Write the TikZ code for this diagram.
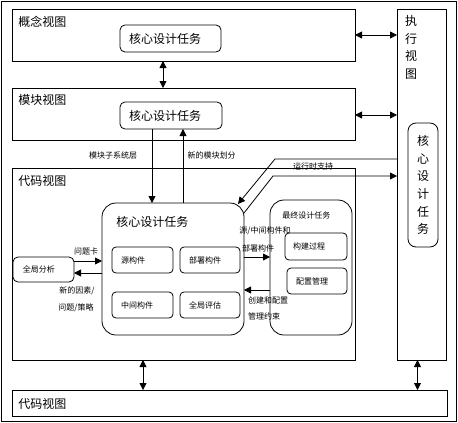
\documentclass[tikz,border=0pt]{standalone}
\usepackage{fontspec}
\newfontfamily\cjk{Noto Sans CJK SC}
\usetikzlibrary{arrows.meta}
\begin{document}
\begin{tikzpicture}[x=1pt,y=-1pt,line width=0.8pt,
  frame/.style={draw,inner sep=0pt,outer sep=0pt},
  task/.style={frame,rounded corners=5pt},
  big/.style={font=\cjk\fontsize{12}{17.7}\selectfont},
  small/.style={font=\cjk\fontsize{8}{10}\selectfont},
  lbl/.style={inner sep=0pt,anchor=west},
  arr/.style={-{Triangle[length=7pt,width=7pt]}},
  darr/.style={{Triangle[length=7pt,width=7pt]}-{Triangle[length=7pt,width=7pt]}}]
\useasboundingbox (0,0) rectangle (458,423);
\node[frame,minimum width=455pt,minimum height=420pt] (outer) at (228.5,211) {};
% concept view
\node[frame,minimum width=343pt,minimum height=52pt] (concept) at (183.5,35) {};
\node[big,lbl] (conceptL) at (18,22) {概念视图};
\node[task,big,minimum width=101pt,minimum height=27pt,text width=83pt,align=left,inner xsep=9pt] (cTask) at (170.5,38.5) {核心设计任务};
% module view
\node[frame,minimum width=343pt,minimum height=52pt] (module) at (183.5,114) {};
\node[big,lbl] (moduleL) at (18,100) {模块视图};
\node[task,big,minimum width=102pt,minimum height=27pt,text width=84pt,align=left,inner xsep=9pt] (mTask) at (171,115.5) {核心设计任务};
% execution view
\node[frame,minimum width=49pt,minimum height=351pt] (exec) at (421.5,184.5) {};
\node[big,inner sep=0pt,anchor=north,align=center] (execL) at (411,15) {执\\行\\视\\图};
\node[frame,rounded corners=8pt,big,align=center,minimum width=30pt,minimum height=124pt] (eTask) at (423,185) {核\\心\\设\\计\\任\\务};
% code view
\node[frame,minimum width=343pt,minimum height=192pt] (code) at (183.5,264) {};
\node[big,lbl] (codeL) at (18,181) {代码视图};
\node[frame,minimum width=435pt,minimum height=26pt] (code2) at (229.5,403) {};
\node[big,lbl] (code2L) at (18,404) {代码视图};
% core design task
\node[frame,rounded corners=14pt,minimum width=142pt,minimum height=132pt] (core) at (173,269) {};
\node[big,lbl] (coreL) at ([xshift=14pt,yshift=-19pt]core.north west) {核心设计任务};
\node[task,rounded corners=4pt,small,minimum width=61pt,minimum height=26pt,text width=43pt,align=left,inner xsep=9pt] (src) at (142.5,260) {源构件};
\node[task,rounded corners=4pt,small,minimum width=60pt,minimum height=26pt,text width=42pt,align=left,inner xsep=9pt] (deploy) at (210,260) {部署构件};
\node[task,rounded corners=4pt,small,minimum width=61pt,minimum height=26pt,text width=43pt,align=left,inner xsep=9pt] (mid) at (142.5,305) {中间构件};
\node[task,rounded corners=4pt,small,minimum width=60pt,minimum height=26pt,text width=42pt,align=left,inner xsep=9pt] (eval) at (210,305) {全局评估};
% final design task
\node[frame,rounded corners=14pt,minimum width=82pt,minimum height=135pt] (final) at (311,267.5) {};
\node[small,lbl] (finalL) at ([xshift=12pt,yshift=-15pt]final.north west) {最终设计任务};
\node[task,rounded corners=4pt,small,minimum width=62pt,minimum height=27pt,text width=46pt,align=left,inner xsep=8pt] (build) at (316,246.5) {构建过程};
\node[task,rounded corners=4pt,small,minimum width=60pt,minimum height=26pt,text width=42pt,align=left,inner xsep=9pt] (config) at (317,281) {配置管理};
% global analysis
\node[task,small,minimum width=61pt,minimum height=25pt,text width=41pt,align=left,inner xsep=10pt] (global) at (43.5,269.5) {全局分析};
% connectors
\draw[darr] ([xshift=-20.5pt]concept.south) -- ([xshift=-20.5pt]concept.south |- module.north);
\draw[darr] (concept.east) -- (concept.east -| exec.west);
\draw[darr] ([yshift=-1pt]module.east) -- ([yshift=-1pt]module.east -| exec.west);
\draw[darr] ([xshift=-40.5pt]code.south) -- ([xshift=-40.5pt]code.south |- code2.north);
\draw[darr] ([xshift=-4pt]exec.south) -- ([xshift=-4pt]exec.south |- code2.north);
\draw[arr] ([xshift=-19pt]mTask.south) -- ([xshift=-19pt]mTask.south |- core.north);
\draw[arr] ([xshift=10pt]core.north) -- ([xshift=10pt]core.north |- mTask.south);
\node[small] (l1) at (113,155) {模块子系统层};
\node[small] (l2) at (211.5,155) {新的模块划分};
\draw[arr] ([yshift=25.5pt]exec.west) -- ++(-122,0) -- ([xshift=-6pt,yshift=-1pt]core.north east);
\node[small] (l3) at (313,166.5) {运行时支持};
\draw[arr] ([yshift=-10pt]core.north east) -- ++(29,-37) coordinate (rt) -- (rt -| exec.west);
\draw[arr] ([yshift=8.5pt]global.east) -- ([yshift=8.5pt]global.east -| core.west);
\draw[arr] ([yshift=-3.5pt]global.east -| core.west) -- ([yshift=-3.5pt]global.east);
\node[small] (l4) at (86,251) {问题卡};
\node[small] (l5) at (77,291) {新的因素/};
\node[small] (l6) at (76,308) {问题/策略};
\draw[arr] ([yshift=12pt]core.east) -- ([yshift=12pt]core.east -| final.west);
\draw[arr] ([yshift=-21pt]core.east -| final.west) -- ([yshift=-21pt]core.east);
\node[small] (l7) at (265,231) {源/中间构件和};
\node[small] (l8) at (258,248) {部署构件};
\node[small] (l9) at (268,300) {创建和配置};
\node[small] (l10) at (264,316) {管理约束};
\end{tikzpicture}
\end{document}
